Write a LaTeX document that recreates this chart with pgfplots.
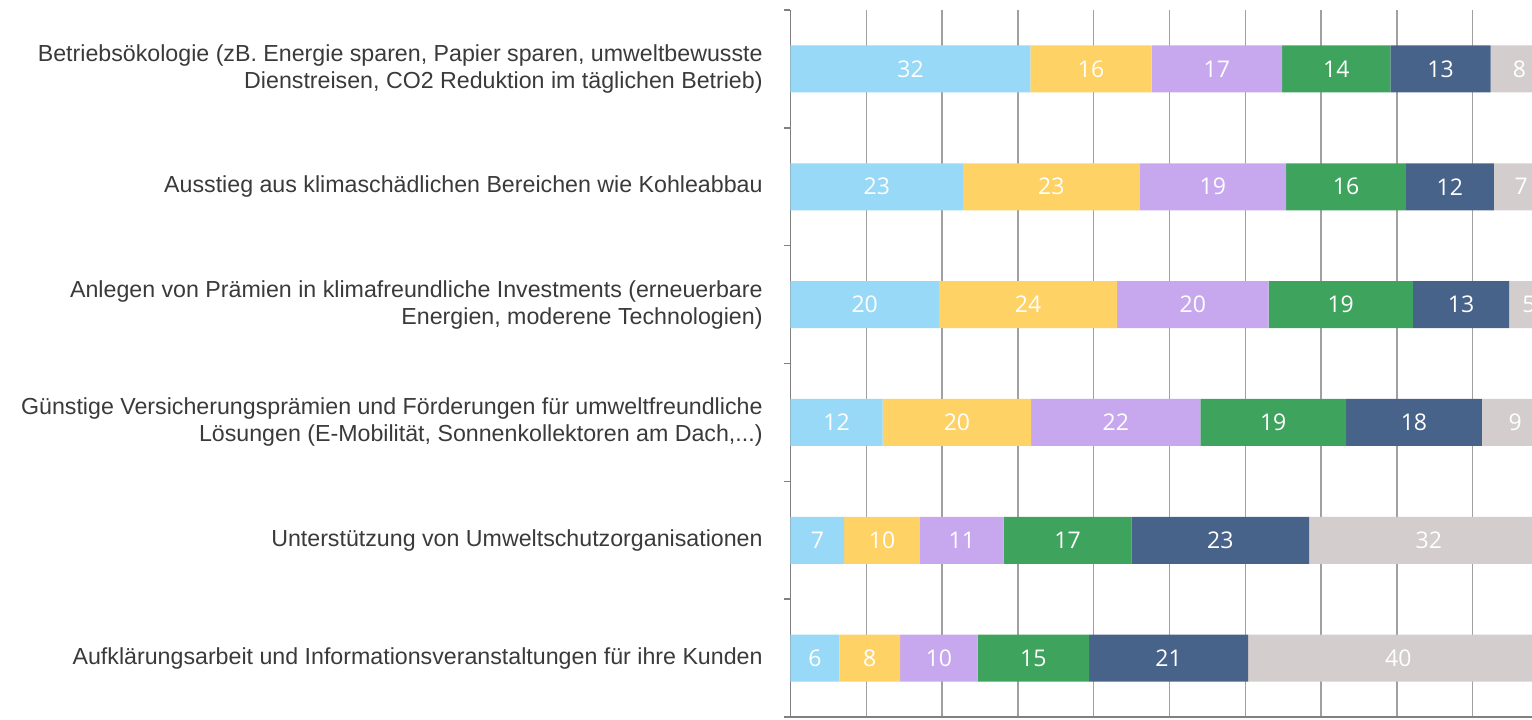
\documentclass[border=0pt]{standalone}
\usepackage{pgfplots}
\usepackage{pgfplotstable}
\pgfplotsset{compat=1.18}
\usepackage{fontspec}
\setmainfont{Liberation Sans}
\newfontfamily\numfont{Open Sans}
\definecolor{cA}{HTML}{97D9F7}
\definecolor{cB}{HTML}{FFD266}
\definecolor{cC}{HTML}{C7A8EF}
\definecolor{cD}{HTML}{3DA35D}
\definecolor{cE}{HTML}{48638A}
\definecolor{cF}{HTML}{D3CDCD}
\definecolor{axgray}{HTML}{808080}
\definecolor{gridgray}{HTML}{A0A0A0}
\definecolor{txt}{HTML}{3A3A3A}

% y: 5 = top row ... 0 = bottom row
\pgfplotstableread{
y a b c d e f
5 31.65 16.00 17.20 14.30 13.20 7.65
4 22.78 23.25 19.37 15.77 11.63 7.20
3 19.58 23.51 19.98 19.04 12.70 5.19
2 12.16 19.60 22.30 19.23 17.92 8.79
1 7.07 9.99 11.07 16.84 23.45 31.58
0 6.44 8.01 10.25 14.68 20.98 39.64
}\bars

\pgfplotstableread{
y x t
5 15.83 32
5 39.65 16
5 56.25 17
5 72.00 14
5 85.75 13
5 96.18 8
4 11.39 23
4 34.41 23
4 55.72 19
4 73.29 16
4 86.99 12
4 96.40 7
3 9.79 20
3 31.34 24
3 53.08 20
3 72.59 19
3 88.46 13
3 97.41 5
2 6.08 12
2 21.96 20
2 42.91 22
2 63.68 19
2 82.25 18
2 95.61 9
1 3.54 7
1 12.07 10
1 22.60 11
1 36.55 17
1 56.70 23
1 84.21 32
0 3.22 6
0 10.45 8
0 19.58 10
0 32.04 15
0 49.87 21
0 80.18 40
}\labels

\begin{document}
\begin{tikzpicture}
\useasboundingbox (0,0) rectangle (766pt,359.5pt);
\pgfplotsset{base/.style={scale only axis, width=379pt, height=353.5pt,
  at={(395.25pt,1pt)}, anchor=south west,
  xmin=0, xmax=100, ymin=-0.5, ymax=5.5}}
\begin{axis}[base,
  xbar stacked, bar width=23.5pt,
  axis x line*=bottom, axis y line*=left,
  axis line style={draw=axgray, line width=0.75pt, -},
  xtick={0,10,...,100}, xticklabels={},
  xmajorgrids, major grid style={draw=gridgray, line width=0.75pt},
  ytick={0,...,5},
  yticklabels={
    {Aufklärungsarbeit und Informationsveranstaltungen für ihre Kunden},
    {Unterstützung von Umweltschutzorganisationen},
    {Günstige Versicherungsprämien und Förderungen für umweltfreundliche\\Lösungen (E-Mobilität, Sonnenkollektoren am Dach,.{}.{}.)},
    {Anlegen von Prämien in klimafreundliche Investments (erneuerbare\\Energien, moderene Technologien)},
    {Ausstieg aus klimaschädlichen Bereichen wie Kohleabbau},
    {Betriebsökologie (zB. Energie sparen, Papier sparen, umweltbewusste\\Dienstreisen, CO2 Reduktion im täglichen Betrieb)}
  },
  minor ytick={-0.5,0.5,...,5.5},
  major tick length=0pt, minor tick length=3pt, tick align=outside,
  tick style={draw=axgray, line width=0.75pt},
  yticklabel style={align=right, anchor=east, inner sep=0pt, xshift=-13.75pt,
    text=txt, font=\fontsize{11.6}{13.5}\selectfont},
]
\addplot[fill=cA, draw=none] table[x=a, y=y]{\bars};
\addplot[fill=cB, draw=none] table[x=b, y=y]{\bars};
\addplot[fill=cC, draw=none] table[x=c, y=y]{\bars};
\addplot[fill=cD, draw=none] table[x=d, y=y]{\bars};
\addplot[fill=cE, draw=none] table[x=e, y=y]{\bars};
\addplot[fill=cF, draw=none] table[x=f, y=y]{\bars};
\end{axis}
\begin{axis}[base, hide axis, clip=false]
\addplot[only marks, mark=none, nodes near coords, point meta=explicit symbolic,
  nodes near coords style={anchor=center, text=white, inner sep=0pt,
    font=\numfont\fontsize{11.5}{13}\selectfont}]
  table[x=x, y=y, meta=t]{\labels};
\end{axis}
\end{tikzpicture}
\end{document}
